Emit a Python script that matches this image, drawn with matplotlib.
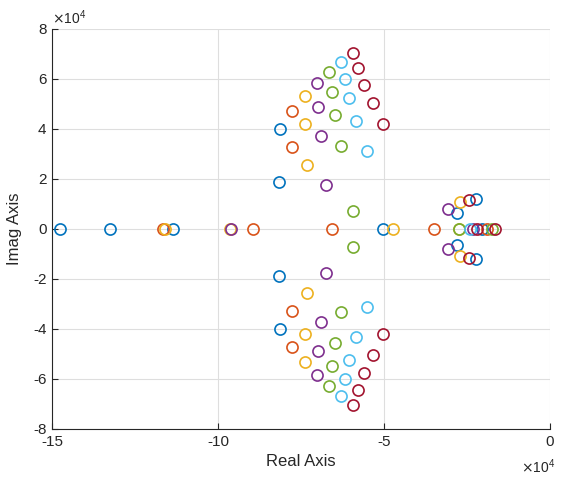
"""Pole map, MATLAB pzmap look."""
import matplotlib
matplotlib.use('Agg')
import matplotlib.pyplot as plt

# pole locations in units of 1e4 (real part, imaginary part >= 0)
# complex poles are drawn together with their conjugates
series_names = ['s1', 's2', 's3', 's4', 's5', 's6', 's7']
series_colors = ['#0072bd', '#d95319', '#edb120', '#7e2f8e',
                 '#77ac30', '#4dbeee', '#a2142f']

real_poles = [
    [-14.76, -13.24, -11.35, -5.02, -2.06],
    [-11.67, -8.95, -6.58, -3.48, -1.91],
    [-11.61, -9.64, -4.74, -2.73],
    [-9.62, -2.31],
    [-2.73, -1.76],
    [-2.41],
    [-2.19, -1.66],
]
complex_re = [
    [-8.12, -8.16, -2.23, -2.79],
    [-7.76, -7.77],
    [-7.38, -7.38, -7.33, -2.70],
    [-7.03, -6.98, -6.91, -6.76, -3.08],
    [-6.66, -6.58, -6.47, -6.31, -5.93],
    [-6.30, -6.17, -6.04, -5.84, -5.52],
    [-5.92, -5.79, -5.59, -5.34, -5.02, -2.44],
]
complex_im = [
    [4.00, 1.89, 1.21, 0.63],
    [4.72, 3.29],
    [5.32, 4.20, 2.56, 1.07],
    [5.85, 4.89, 3.72, 1.76, 0.80],
    [6.29, 5.49, 4.55, 3.33, 0.73],
    [6.69, 6.00, 5.23, 4.31, 3.12],
    [7.05, 6.43, 5.76, 5.03, 4.20, 1.16],
]

x_ticks = [-15, -10, -5, 0]
y_ticks = [-8, -6, -4, -2, 0, 2, 4, 6, 8]

plt.rcParams['font.family'] = ['Liberation Sans', 'DejaVu Sans']
axis_col = '#262626'

fig = plt.figure(figsize=(5.61, 4.82), dpi=100)
ax = fig.add_axes([52 / 561, 53 / 482, 498 / 561, 400 / 482])

for i in range(len(series_names)):
    xs = real_poles[i] + complex_re[i] + complex_re[i]
    ys = [0] * len(real_poles[i]) + complex_im[i] + [-v for v in complex_im[i]]
    ax.plot(xs, ys, linestyle='none', marker='o', markersize=8,
            markerfacecolor='none', markeredgecolor=series_colors[i],
            markeredgewidth=1.2, zorder=3)

ax.set_xlim(-15, 0)
ax.set_ylim(-8, 8)
ax.set_xticks(x_ticks)
ax.set_yticks(y_ticks)
ax.set_xticklabels([str(t) for t in x_ticks])
ax.set_yticklabels([str(t) for t in y_ticks])

ax.grid(True, color='#dedede', linewidth=0.8)
ax.set_axisbelow(True)
for side in ['top', 'right']:
    ax.spines[side].set_visible(False)
for side in ['left', 'bottom']:
    ax.spines[side].set_color(axis_col)
    ax.spines[side].set_linewidth(0.8)
ax.tick_params(direction='in', length=4, width=0.8, colors=axis_col,
               labelsize=11, pad=4)

ax.set_xlabel('Real Axis', fontsize=12, color=axis_col, labelpad=4)
ax.set_ylabel('Imag Axis', fontsize=12, color=axis_col, labelpad=8)

# exponent labels, MATLAB style
ax.text(0.0, 1.005, r'$\times\mathregular{10^4}$', transform=ax.transAxes,
        fontsize=10, color=axis_col, ha='left', va='bottom')
ax.text(1.01, -0.07, r'$\times\mathregular{10^4}$', transform=ax.transAxes,
        fontsize=10, color=axis_col, ha='right', va='top')

fig.savefig('out.png', dpi=100)
